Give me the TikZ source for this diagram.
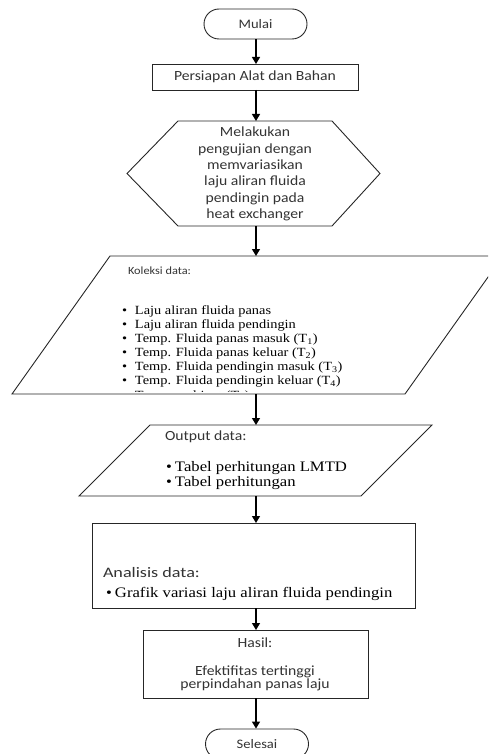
\documentclass[tikz,border=0pt]{standalone}
\usepackage{fontspec}
\setmainfont[FakeStretch=1.15]{Liberation Serif}
\newfontfamily\sansf[FakeStretch=1.12]{Carlito}
\newfontfamily\sansw[FakeStretch=1.25]{Carlito}
\usetikzlibrary{arrows.meta,calc}
\definecolor{txt}{gray}{0.2}
\begin{document}
\begin{tikzpicture}[x=1pt,y=-1pt,
  box/.style={draw=black!85, line width=0.9pt},
  inv/.style={inner sep=0pt, outer sep=0pt},
  arr/.style={-{Triangle[length=7pt,width=8pt]}, line width=1.3pt},
  term/.style={box, rounded corners=15pt, minimum width=103pt, minimum height=30pt, inner sep=0pt, text=txt, font=\sansf\fontsize{13}{15}\selectfont},
  stxt/.style={inv, text=txt},
  ltxt/.style={inv, anchor=west, text=black},
]
\useasboundingbox (0,0) rectangle (488,754);
\clip (0,0) rectangle (488,754);
\coordinate (col) at (256,0);

% start
\node[term] (mulai) at (255.5,24) {Mulai};

% preparation
\node[box, inv, minimum width=206pt, minimum height=26pt, text=txt, font=\sansf\fontsize{14}{16}\selectfont] (prep) at (255,77) {Persiapan Alat dan Bahan};

% hexagon
\node[inv, minimum width=253pt, minimum height=105pt] (hex) at (253.5,173.5) {};
\draw[box] (hex.west) -- ($(hex.north west)+(51,0)$) -- ($(hex.north east)+(-48,0)$) -- (hex.east) -- ($(hex.south east)+(-48,0)$) -- ($(hex.south west)+(51,0)$) -- cycle;
\node[stxt, align=center, font=\sansf\fontsize{14}{16.3}\selectfont] (hext) at (255,174) {Melakukan\\pengujian dengan\\memvariasikan\\laju aliran fluida\\pendingin pada\\heat exchanger};

% data collection parallelogram
\node[inv, minimum width=491pt, minimum height=138pt] (kol) at (257.5,325) {};
\draw[box] ($(kol.north west)+(98,0)$) -- (kol.north east) -- ($(kol.south east)+(-98,0)$) -- (kol.south west) -- cycle;
\node[stxt, anchor=west, font=\sansf\fontsize{11}{13}\selectfont] (kolt) at (128,271) {Koleksi data:};
\begin{scope}
\clip (0,0) rectangle (488,391);
\foreach \t [count=\i] in {{Laju aliran fluida panas},{Laju aliran fluida pendingin},{Temp. Fluida panas masuk (T\textsubscript{1})},{Temp. Fluida panas keluar (T\textsubscript{2})},{Temp. Fluida pendingin masuk (T\textsubscript{3})},{Temp. Fluida pendingin keluar (T\textsubscript{4})},{Temp. ambient (T\textsubscript{5})}}
  \node[ltxt, font=\fontsize{12.5}{14}\selectfont] (kl\i) at (122,{311+(\i-1)*14.2}) {\makebox[13pt][l]{\textbullet}\t};
\end{scope}

% output parallelogram
\node[inv, minimum width=353pt, minimum height=71pt] (out) at (255.5,460.5) {};
\draw[box] ($(out.north west)+(71,0)$) -- (out.north east) -- ($(out.south east)+(-71,0)$) -- (out.south west) -- cycle;
\node[stxt, anchor=west, font=\sansf\fontsize{14}{16}\selectfont] (outt) at (165,437) {Output data:};
\node[ltxt, font=\fontsize{14.5}{16}\selectfont] (o1) at (166,468) {\makebox[9pt][l]{\textbullet}Tabel perhitungan LMTD};
\node[ltxt, font=\fontsize{14.5}{16}\selectfont] (o2) at (166,483) {\makebox[9pt][l]{\textbullet}Tabel perhitungan};

% analysis box
\node[box, inv, minimum width=323pt, minimum height=85pt] (ana) at (253.5,565.5) {};
\node[stxt, anchor=west, font=\sansw\fontsize{14.5}{17}\selectfont] (anat) at (103,573) {Analisis data:};
\node[ltxt, font=\fontsize{14.5}{16}\selectfont] (a1) at (106,594) {\makebox[9pt][l]{\textbullet}Grafik variasi laju aliran fluida pendingin};

% result box
\node[box, inv, minimum width=225pt, minimum height=68pt] (hasil) at (255.5,664) {};
\node[stxt, font=\sansf\fontsize{14}{16}\selectfont] (hast) at (255,643) {Hasil:};
\node[stxt, align=center, font=\sansf\fontsize{14}{13.5}\selectfont] (hasl) at (255,678.5) {Efektifitas tertinggi\\perpindahan panas laju};

% end
\node[term] (selesai) at (257,744) {Selesai};

% connectors
\draw[arr] (mulai.south -| col) -- (prep.north -| col);
\draw[arr] (prep.south -| col) -- (hex.north -| col);
\draw[arr] (hex.south -| col) -- (kol.north -| col);
\draw[arr] (kol.south -| col) -- (out.north -| col);
\draw[arr] (out.south -| col) -- (ana.north -| col);
\draw[arr] (ana.south -| col) -- (hasil.north -| col);
\draw[arr] (hasil.south -| col) -- (selesai.north -| col);
\end{tikzpicture}
\end{document}
